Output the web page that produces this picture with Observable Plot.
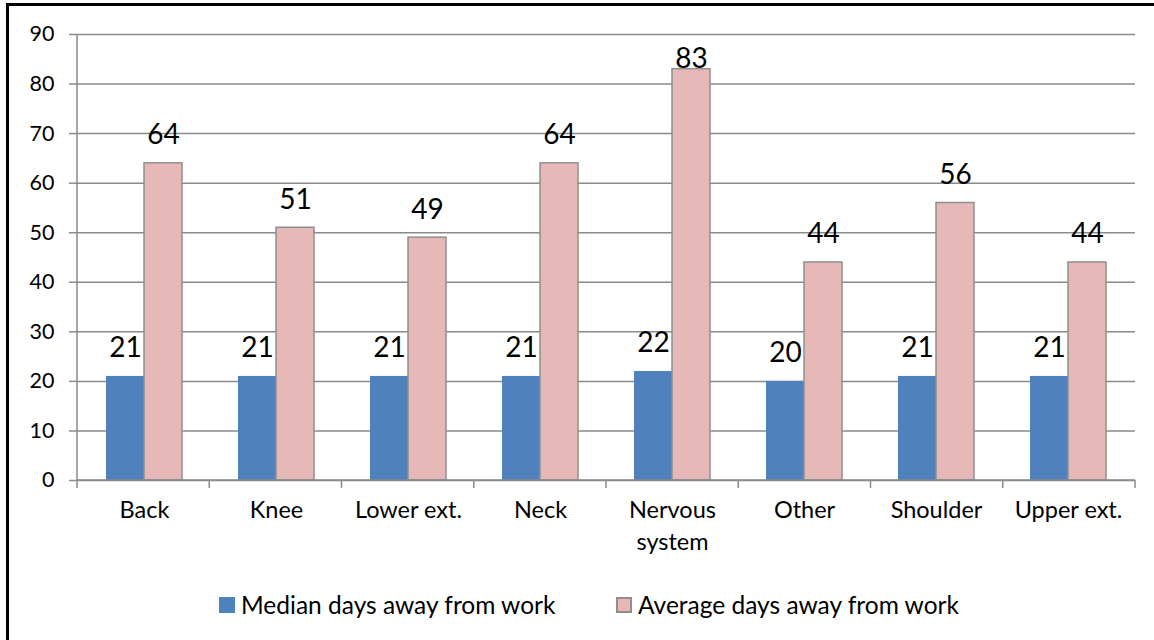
<!DOCTYPE html>
<html>
<head>
<meta charset="utf-8">
<script src="https://cdn.jsdelivr.net/npm/d3@7"></script>
<script src="https://cdn.jsdelivr.net/npm/@observablehq/plot@0.6"></script>
<style>
  html, body { margin: 0; padding: 0; background: #fff; width: 1154px; height: 640px; overflow: hidden; }
  body { position: relative; font-family: Lato, "Liberation Sans", sans-serif; }
  #frame { position: absolute; left: 6px; top: 3px; width: 1200px; height: 700px; border: 3px solid #000; box-sizing: border-box; }
  #chart { position: absolute; left: 0; top: 0; }
  .item { position: absolute; top: 590px; display: flex; align-items: center; font-size: 24.5px; color: #000; white-space: nowrap; }
  .sw { width: 16px; height: 16px; box-sizing: border-box; margin-right: 6px; }
</style>
</head>
<body>
<div id="frame"></div>
<div id="chart"></div>
<div class="item" id="leg1" style="left:219px"><span class="sw" style="background:#4F81BD"></span><span>Median days away from work</span></div>
<div class="item" id="leg2" style="left:616px"><span class="sw" style="background:#E6B9B8;border:2px solid #8f8f8f"></span><span>Average days away from work</span></div>
<script>
const categories = ["Back", "Knee", "Lower ext.", "Neck", "Nervous\nsystem", "Other", "Shoulder", "Upper ext."];
const medianDays = [21, 21, 21, 21, 22, 20, 21, 21];
const averageDays = [64, 51, 49, 64, 83, 44, 56, 44];
const yTicks = [0, 10, 20, 30, 40, 50, 60, 70, 80, 90];

const BLUE = "#4F81BD", PINK = "#E6B9B8", GRID = "#8a8a8a";
const medianData = categories.map((c, i) => ({category: c, value: medianDays[i]}));
const averageData = categories.map((c, i) => ({category: c, value: averageDays[i]}));

// axis lines and category boundary ticks, drawn from the scales/layout
function axisFrame(index, {x, y}, values, dims) {
  const left = dims.marginLeft, right = dims.width - dims.marginRight;
  const y0 = y(0), n = categories.length;
  const g = d3.create("svg:g").attr("stroke", GRID).attr("stroke-width", 1.5);
  g.append("line").attr("x1", left).attr("x2", left).attr("y1", y(90)).attr("y2", y0);
  g.append("line").attr("x1", left).attr("x2", right).attr("y1", y0).attr("y2", y0);
  for (let i = 0; i <= n; i++) {
    const xx = left + i * (right - left) / n;
    g.append("line").attr("x1", xx).attr("x2", xx).attr("y1", y0).attr("y2", y0 + 8);
  }
  return g.node();
}

const HALF = 38;
const chart = Plot.plot({
  width: 1154,
  height: 570,
  marginLeft: 77,
  marginRight: 19,
  marginTop: 34,
  marginBottom: 90,
  style: {fontFamily: "Lato, 'Liberation Sans', sans-serif", fontSize: "22px", color: "#000", background: "transparent"},
  x: {domain: categories, paddingInner: 1 - 2 * HALF / (1058 / 8), paddingOuter: (1 - 2 * HALF / (1058 / 8)) / 2, label: null},
  y: {domain: [0, 90], label: null},
  marks: [
    Plot.gridY(yTicks, {stroke: GRID, strokeOpacity: 1, strokeWidth: 1.5}),
    Plot.axisY(yTicks, {tickSize: 8, tickPadding: 15, stroke: GRID, strokeWidth: 1.5, fontSize: 21.5, label: null, fill: "#000"}),
    Plot.axisX({tickSize: 0, tickPadding: 14, fontSize: 23.5, lineHeight: 1.38, label: null, fill: "#000"}),
    Plot.barY(medianData, {x: "category", y: "value", fill: BLUE, insetRight: HALF}),
    Plot.barY(averageData, {x: "category", y: "value", fill: PINK, stroke: "#8f8f8f", strokeWidth: 1.5, insetLeft: HALF}),
    axisFrame,
    Plot.text(medianData, {x: "category", y: d => Math.min(d.value, 79.5), text: d => String(d.value), dx: -HALF / 2, dy: -28, fontSize: 28, fill: "#000"}),
    Plot.text(averageData, {x: "category", y: d => Math.min(d.value, 79.5), text: d => String(d.value), dx: HALF / 2, dy: -28, fontSize: 28, fill: "#000"})
  ]
});
document.getElementById("chart").appendChild(chart);
</script>
</body>
</html>
